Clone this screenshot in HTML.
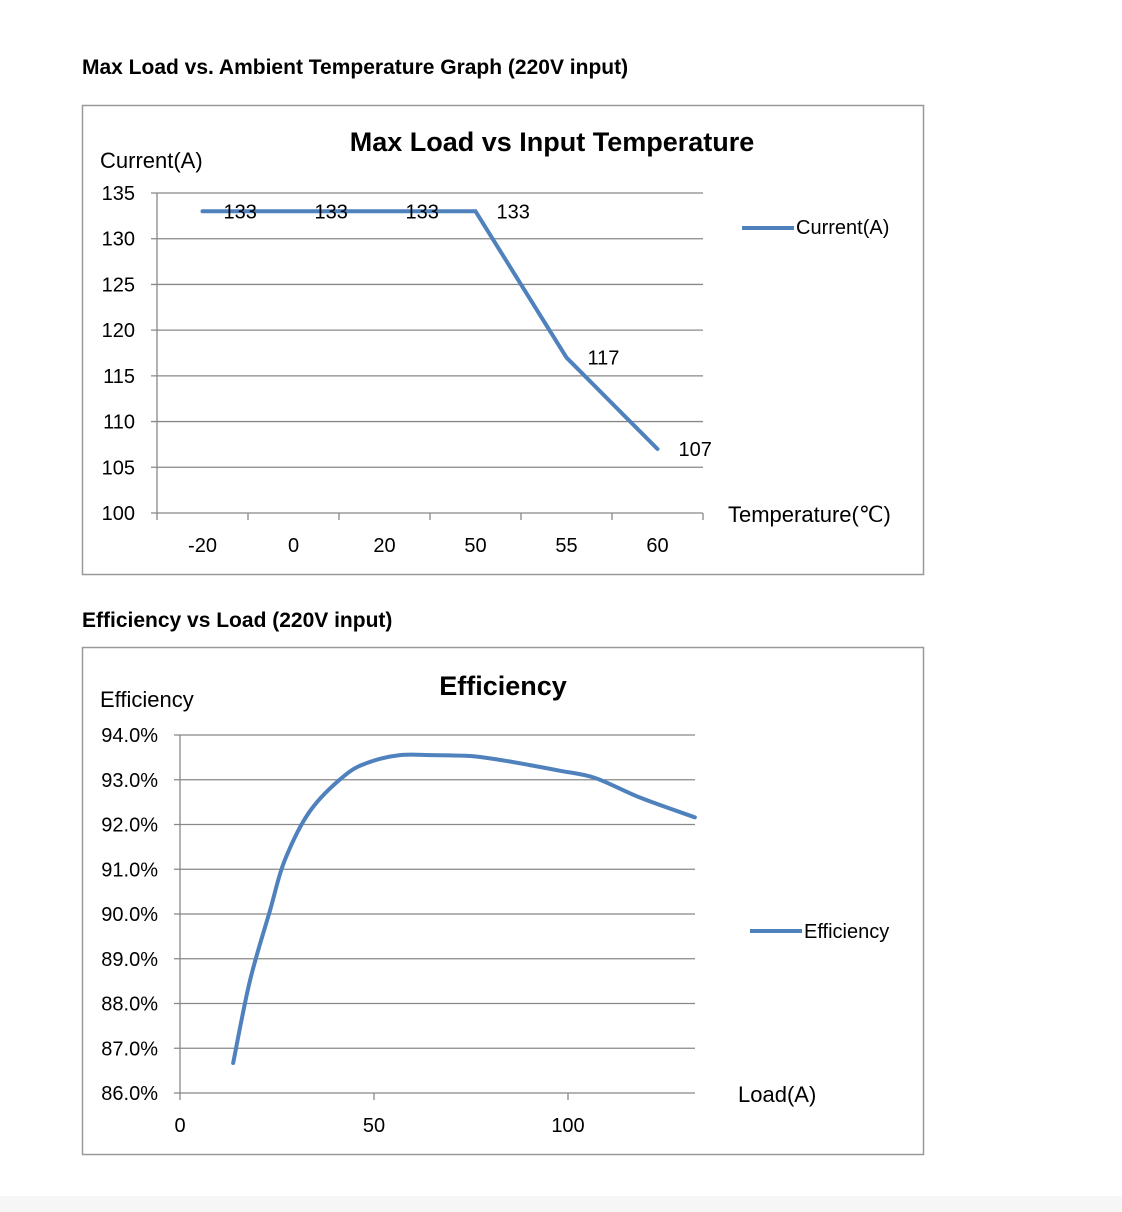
<!DOCTYPE html>
<html><head><meta charset="utf-8"><style>
body{margin:0;background:#fff;}
svg{display:block;font-family:"Liberation Sans",sans-serif;}
</style></head><body>
<svg id="s" width="1122" height="1212" xmlns="http://www.w3.org/2000/svg">
<rect x="0" y="1196" width="1122" height="16" fill="#f6f6f6"/>
<text x="82" y="74" font-size="21" font-weight="bold">Max Load vs. Ambient Temperature Graph (220V input)</text>
<rect x="82.5" y="105.5" width="841" height="469" fill="none" stroke="#999" stroke-width="1.5"/>
<text x="552" y="151" font-size="27" font-weight="bold" text-anchor="middle">Max Load vs Input Temperature</text>
<text x="100" y="168" font-size="22">Current(A)</text>
<text x="728" y="522" font-size="22">Temperature(℃)</text>
<line x1="742" y1="228" x2="794" y2="228" stroke="#4f81bd" stroke-width="4"/>
<text x="796" y="234" font-size="20">Current(A)</text>
<g id="c1"></g>
<text x="82" y="627" font-size="21" font-weight="bold">Efficiency vs Load (220V input)</text>
<rect x="82.5" y="647.5" width="841" height="507" fill="none" stroke="#999" stroke-width="1.5"/>
<text x="503" y="695" font-size="27" font-weight="bold" text-anchor="middle">Efficiency</text>
<text x="100" y="707" font-size="22">Efficiency</text>
<text x="738" y="1102" font-size="22">Load(A)</text>
<line x1="750" y1="931" x2="802" y2="931" stroke="#4f81bd" stroke-width="4"/>
<text x="804" y="938" font-size="20">Efficiency</text>
<g id="c2"></g>
</svg>
<script>
const tempCats = ["-20","0","20","50","55","60"];
const currentVals = [133,133,133,133,117,107];
const c1YTicks = [100,105,110,115,120,125,130,135];
const loadVals = [13.7,18,23.2,27,33.5,42.5,49,56.7,65,74.7,82,90,98,107,118.6,132.7];
const effVals = [86.67,88.5,90.08,91.2,92.3,93.1,93.4,93.55,93.55,93.53,93.45,93.33,93.2,93.04,92.6,92.16];
const c2YTicks = [86,87,88,89,90,91,92,93,94];
const c2XTicks = [0,50,100];
const NS="http://www.w3.org/2000/svg";
function mk(p,t,a,txt){const e=document.createElementNS(NS,t);for(const k in a)e.setAttribute(k,a[k]);if(txt!==undefined)e.textContent=txt;p.appendChild(e);return e;}
// chart 1
const g1=document.getElementById('c1');
const L1=157,R1=703,T1=193,B1=513,ymin1=100,ymax1=135;
const bw=(R1-L1)/tempCats.length;
const x1=i=>L1+bw*(i+0.5), y1=v=>B1-(v-ymin1)/(ymax1-ymin1)*(B1-T1);
c1YTicks.forEach(v=>{
 const l=mk(g1,'line',{x1:L1-6,x2:R1,y1:y1(v),y2:y1(v),stroke:'#888','stroke-width':1.3});
 
 
 const t=mk(g1,'text',{x:135,y:y1(v)+7,'font-size':20,'text-anchor':'end'},v);
 
 
});
mk(g1,'line',{x1:L1,x2:L1,y1:T1,y2:B1,stroke:'#888','stroke-width':1.3});
for(let i=0;i<=tempCats.length;i++){mk(g1,'line',{x1:L1+bw*i,x2:L1+bw*i,y1:B1,y2:B1+7,stroke:'#888','stroke-width':1.3});}
tempCats.forEach((c,i)=>{
 const t=mk(g1,'text',{x:x1(i),y:552,'font-size':20,'text-anchor':'middle'},c);
 
 
});
const p1=mk(g1,'polyline',{points:currentVals.map((v,i)=>x1(i)+','+y1(v)).join(' '),fill:'none',stroke:'#4f81bd','stroke-width':4,'stroke-linecap':'round'});


currentVals.forEach((v,i)=>{
 const t=mk(g1,'text',{x:x1(i)+21,y:y1(v)+7,'font-size':20},v);
 
 
});
// chart 2
const g2=document.getElementById('c2');
const L2=180,R2=695,T2=735,B2=1093,ymin2=86,ymax2=94,xs=3.88;
const x2=v=>L2+v*xs, y2=v=>B2-(v-ymin2)/(ymax2-ymin2)*(B2-T2);
c2YTicks.forEach(v=>{
 const l=mk(g2,'line',{x1:L2-6,x2:R2,y1:y2(v),y2:y2(v),stroke:'#888','stroke-width':1.3});
 
 
 const t=mk(g2,'text',{x:158,y:y2(v)+7,'font-size':20,'text-anchor':'end'},v.toFixed(1)+'%');
 
 
});
mk(g2,'line',{x1:L2,x2:L2,y1:T2,y2:B2,stroke:'#888','stroke-width':1.3});
c2XTicks.forEach(v=>{
 mk(g2,'line',{x1:x2(v),x2:x2(v),y1:B2,y2:B2+7,stroke:'#888','stroke-width':1.3});
 const t=mk(g2,'text',{x:x2(v),y:1132,'font-size':20,'text-anchor':'middle'},v);
 
 
});
const pts=loadVals.map((v,i)=>[x2(v),y2(effVals[i])]);
let d='M'+pts[0][0]+','+pts[0][1];
for(let i=0;i<pts.length-1;i++){
 const p0=pts[Math.max(0,i-1)],p=pts[i],q=pts[i+1],q2=pts[Math.min(pts.length-1,i+2)];
 const c1x=p[0]+(q[0]-p0[0])/6,c1y=p[1]+(q[1]-p0[1])/6,c2x=q[0]-(q2[0]-p[0])/6,c2y=q[1]-(q2[1]-p[1])/6;
 d+=` C${c1x},${c1y} ${c2x},${c2y} ${q[0]},${q[1]}`;
}
const p2=mk(g2,'path',{d:d,fill:'none',stroke:'#4f81bd','stroke-width':4,'stroke-linecap':'round'});


</script>
</body></html>
